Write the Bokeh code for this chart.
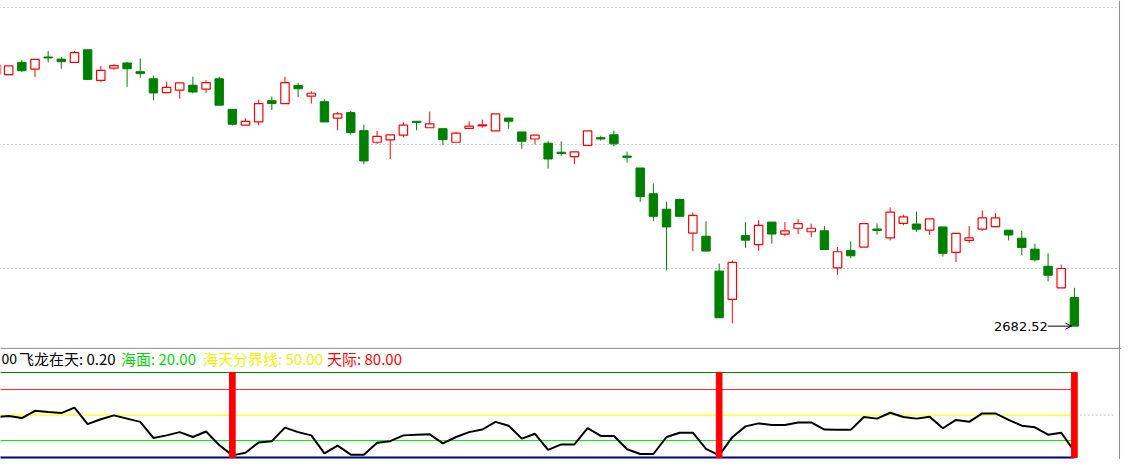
from bokeh.plotting import figure
from bokeh.models import Range1d, Span, Label, Arrow, OpenHead, ColumnDataSource
from bokeh.embed import file_html
from bokeh.resources import INLINE
from bokeh.core.properties import value

# ---------------- data ----------------
start_index = -1
opens = [3074, 3073, 3092, 3081.5, 3100.3, 3097, 3092, 3111.5, 3064, 3083, 3091, 3077.5, 3066.5, 3045, 3049,
         3056.5, 3050.5, 3066.5, 3019, 2994.5, 2999.5, 3032.5, 3028, 3056, 3039.5, 3031, 3005.5, 3014, 2986,
         2968, 2971.5, 2979, 3000.5, 2990.5, 2989, 2968, 2989.5, 2993.5, 2985.5, 3005.5, 2984, 2973, 2966.5,
         2952.5, 2945.5, 2963, 2975, 2979.5, 2946.5, 2928, 2888, 2864, 2879, 2827, 2822, 2768, 2724, 2823,
         2809, 2844, 2825.5, 2834.5, 2829, 2830.5, 2773, 2800, 2805.2, 2833.3, 2819.5, 2842, 2841, 2831.5,
         2836.5, 2797, 2815.5, 2833, 2837, 2831.5, 2819, 2802, 2775.5, 2742, 2727]
highs = [3088, 3086.5, 3095.5, 3096.5, 3109.6, 3100.5, 3109.6, 3111.5, 3086.5, 3089.5, 3093, 3098, 3071.5, 3062,
         3060, 3069.5, 3064.5, 3069.5, 3019, 3005, 3034, 3039, 3069.5, 3060.5, 3047, 3034.5, 3015, 3016.5, 2995,
         2985.5, 2979.5, 2999, 3000.5, 3015.5, 2989, 2984, 3000.5, 3003, 3012, 3005.5, 2984, 2979, 2970, 2969.5,
         2953, 2985.5, 2978, 2986, 2953.5, 2928, 2904, 2875.5, 2880.5, 2859, 2845.5, 2779.5, 2784.5, 2844, 2847,
         2844, 2844, 2849, 2841.5, 2838, 2805.5, 2814, 2841.5, 2842, 2867, 2855.5, 2860.5, 2849, 2836.5, 2826.5,
         2838, 2862, 2858, 2831.5, 2830.5, 2810.5, 2795.5, 2778, 2742]
lows = [3074, 3073, 3077, 3069, 3092, 3082, 3092, 3065.5, 3062, 3080.5, 3054, 3068, 3033, 3045, 3035.5, 3044,
        3044.5, 3025.5, 2994, 2993.5, 2994, 3018, 3028, 3038, 3028, 2999.5, 2986.5, 2979.5, 2933.8, 2965.5, 2942,
        2975.5, 2986.5, 2990.5, 2964, 2967, 2989.5, 2990.5, 2985.5, 2989, 2958, 2964.5, 2927, 2947, 2934, 2963,
        2970.5, 2962, 2936.5, 2875.5, 2845.5, 2769, 2853, 2799, 2799, 2695.5, 2686.5, 2804, 2799, 2810.5, 2822,
        2825.5, 2820.5, 2801.5, 2762, 2788, 2805.2, 2824.5, 2815.5, 2839, 2829, 2824, 2790.5, 2782, 2812, 2830.5,
        2837, 2815.5, 2793, 2783, 2752, 2742, 2682.52]
closes = [3088, 3086.5, 3079, 3096.5, 3098.8, 3093, 3107, 3065.5, 3079.6, 3087, 3082, 3074.5, 3044.5, 3053, 3060,
          3046, 3060.5, 3025.5, 2996, 3000.5, 3028, 3028, 3060.5, 3051, 3044, 2999.5, 3012, 2983, 2939, 2977,
          2979.5, 2994.5, 2998.5, 2996.5, 2972, 2982, 2993, 2995, 3012, 3000.5, 2969.5, 2979, 2942, 2950.3, 2953,
          2985.5, 2973, 2965.5, 2944.5, 2883.5, 2853, 2836.5, 2853, 2854.5, 2799, 2695.5, 2781.5, 2816, 2839,
          2825.5, 2830.5, 2841.5, 2834.5, 2801.5, 2798, 2791.7, 2841.5, 2831, 2859.5, 2852, 2833, 2849, 2795.5,
          2826.5, 2819.5, 2850.5, 2850.5, 2824, 2804.5, 2785.5, 2761.5, 2772, 2682.52]

ind_values = [47.7, 48.9, 46.5, 55.0, 53.5, 52.3, 58.7, 39.4, 45.0, 49.6, 45.8, 42.0, 23.1, 26.1, 29.9, 24.2,
              30.7, 14.8, 2.6, 5.7, 17.8, 19.3, 35.2, 29.9, 26.1, 4.9, 14.0, 3.4, 3.4, 17.5, 19.3, 26.1, 26.9,
              27.3, 16.7, 24.2, 29.9, 33.0, 42.0, 37.5, 22.3, 28.0, 9.1, 15.5, 15.5, 34.5, 25.4, 25.4, 9.8, 4.2,
              4.2, 24.2, 29.2, 29.2, 10.2, 2.6, 24.0, 36.7, 40.2, 38.3, 38.3, 41.3, 41.3, 33.0, 32.6, 32.6, 47.7,
              45.8, 52.7, 47.7, 45.8, 48.1, 34.5, 44.3, 42.0, 51.9, 51.9, 44.3, 37.5, 35.6, 26.9, 29.2, 7.2]
signal_idx = [17, 54, 81]

grid_levels = [3177.0, 2964.5, 2772.0]
band_levels = [100, 80, 50, 20, 0]
band_colors = ["#008000", "#ff2a2a", "#ffff00", "#00ee00", "#000080"]
band_widths = [1, 1, 1.3, 1, 2]

header_prev = "00"
header_names = ["飞龙在天", "海面", "海天分界线", "天际"]
header_values = [0.20, 20.00, 50.00, 80.00]
header_colors = ["#000000", "#00dd00", "#f2f200", "#ff0000"]
header_x = [18.5, 120.5, 202.5, 326.5]

last_label = "%.2f" % closes[-1]

# ---------------- figure ----------------
idx = list(range(start_index, start_index + len(opens)))
last = idx[-1]
RED = "#ff0000"
GREEN = "#008000"

p = figure(width=1121, height=459, x_range=Range1d(-0.622, 84.58), y_range=Range1d(2475.5, 3188.0),
           output_backend="svg", toolbar_location=None, min_border=0,
           x_axis_type=None, y_axis_type=None)
p.outline_line_color = None
p.background_fill_color = "white"
p.border_fill_color = "white"
p.extra_y_ranges = {"ind": Range1d(-2.27, 537.5)}

# price grid (dotted)
p.segment(x0=[idx[0]] * len(grid_levels), y0=grid_levels, x1=[last + 3.2] * len(grid_levels), y1=grid_levels,
          line_color="#9a9a9a", line_width=1, line_dash="1 3")

up = [i for i in range(len(opens)) if closes[i] >= opens[i]]
dn = [i for i in range(len(opens)) if closes[i] < opens[i]]

src_up = ColumnDataSource(dict(
    x=[idx[i] for i in up], o=[opens[i] for i in up], c=[closes[i] for i in up],
    h=[highs[i] for i in up], l=[lows[i] for i in up]))
src_dn = ColumnDataSource(dict(
    x=[idx[i] for i in dn], o=[opens[i] for i in dn], c=[closes[i] for i in dn],
    h=[highs[i] for i in dn], l=[lows[i] for i in dn]))

# down candles (filled green)
p.segment(x0="x", y0="h", x1="x", y1="l", source=src_dn, line_color=GREEN, line_width=1)
p.vbar(x="x", width=0.64, top="o", bottom="c", source=src_dn, fill_color=GREEN, line_color=GREEN, line_width=1)

# up candles (hollow red)
p.segment(x0="x", y0="h", x1="x", y1="c", source=src_up, line_color=RED, line_width=1)
p.segment(x0="x", y0="o", x1="x", y1="l", source=src_up, line_color=RED, line_width=1)
p.vbar(x="x", width=0.64, top="c", bottom="o", source=src_up, fill_color="white", line_color=RED, line_width=1.2)

# last price label with arrow
p.add_layout(Arrow(end=OpenHead(size=6, line_color="black", line_width=1),
                   x_start=last - 2.02, y_start=closes[-1], x_end=last - 0.22, y_end=closes[-1],
                   line_color="black", line_width=1))
p.text(x=[last - 2.02], y=[closes[-1]], text=[last_label], text_align="right", text_baseline="middle",
       text_font=value("DejaVu Sans"), text_font_size="13px", text_color="#000000")

# panel separators
p.add_layout(Span(location=128.4, dimension="width", y_range_name="ind", line_color="#8c8c8c", line_width=1))
p.add_layout(Span(location=last + 3.43, dimension="height", line_color="#8c8c8c", line_width=1))

# indicator bands
band_src = ColumnDataSource(dict(x0=[idx[0]] * len(band_levels), x1=[last] * len(band_levels),
                                 y=band_levels, c=band_colors, w=band_widths))
p.segment(x0="x0", y0="y", x1="x1", y1="y", source=band_src, line_color="c", line_width="w", y_range_name="ind")
p.segment(x0=[last + 0.45], y0=[band_levels[2]], x1=[last + 3.2], y1=[band_levels[2]],
          line_color="#9a9a9a", line_width=1, line_dash="1 3", y_range_name="ind")

# indicator line
p.line(x=idx, y=ind_values, line_color="black", line_width=2, y_range_name="ind")

# signal bars
p.vbar(x=signal_idx, width=0.43, top=band_levels[0], bottom=band_levels[-1], fill_color=RED, line_color=RED,
       y_range_name="ind")

# header texts
p.add_layout(Label(x=1, y=116.5, x_units="screen", y_range_name="ind", text=header_prev, text_align="left",
                   text_baseline="middle", text_font="Noto Sans CJK SC", text_font_size="14px",
                   text_color="#000000"))
for name, val, col, hx in zip(header_names, header_values, header_colors, header_x):
    p.add_layout(Label(x=hx, y=116.5, x_units="screen", y_range_name="ind", text="%s: %.2f" % (name, val),
                       text_align="left", text_baseline="middle", text_font="Noto Sans CJK SC",
                       text_font_size="15px", text_color=col))

open("out.html", "w").write(file_html(p, INLINE))
